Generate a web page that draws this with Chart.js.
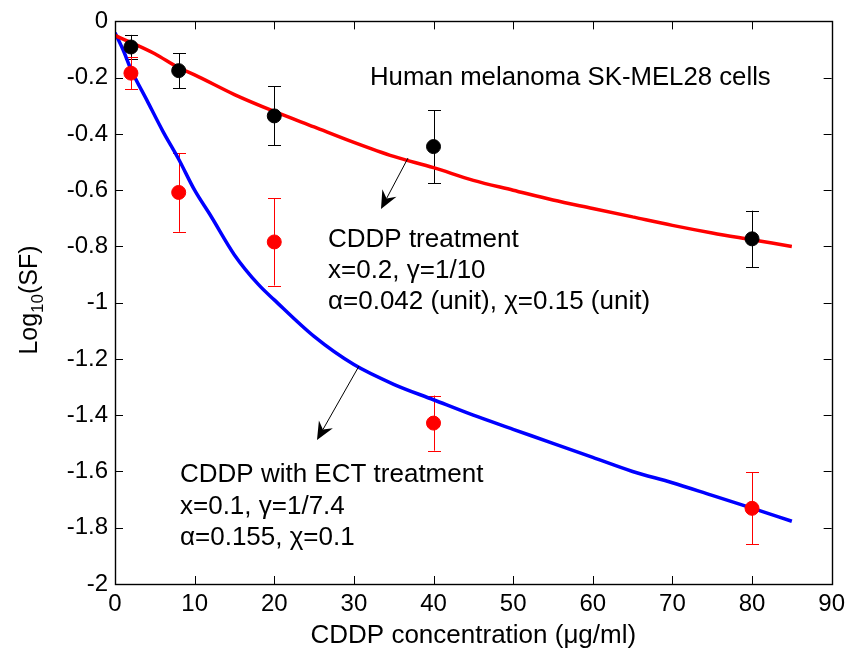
<!DOCTYPE html>
<html>
<head>
<meta charset="utf-8">
<script src="https://cdn.jsdelivr.net/npm/chart.js@4.4.1/dist/chart.umd.min.js"></script>
<style>
  html, body { margin: 0; padding: 0; background: #ffffff; }
  #wrap { width: 851px; height: 657px; }
</style>
</head>
<body>
<div id="wrap"><canvas id="c" width="851" height="657"></canvas></div>
<script>
// ---- Data ----
const xTickValues = [0, 10, 20, 30, 40, 50, 60, 70, 80, 90];
const yTickValues = [0, -0.2, -0.4, -0.6, -0.8, -1, -1.2, -1.4, -1.6, -1.8, -2];

// measured concentrations
const doseX = [2, 8, 20, 40, 80];
// CDDP treatment (black points) and their error half-widths
const cddpMean = [-0.091, -0.175, -0.336, -0.445, -0.773];
const cddpErr  = [0.043, 0.062, 0.105, 0.13, 0.10];
// CDDP with ECT treatment (red points) and their error half-widths
const ectMean = [-0.184, -0.608, -0.784, -1.428, -1.731];
const ectErr  = [0.058, 0.14, 0.155, 0.098, 0.128];

// model curve: CDDP treatment (red line)
const cddpCurveX = [0, 2, 5, 8, 10, 15, 20, 25, 30, 35, 40, 45, 50, 55, 60, 65, 70, 75, 80, 85];
const cddpCurveY = [-0.05, -0.075, -0.115, -0.165, -0.19, -0.26, -0.32, -0.375, -0.43, -0.48, -0.52, -0.565, -0.60, -0.635, -0.665, -0.695, -0.725, -0.752, -0.776, -0.80];

// model curve: CDDP with ECT treatment (blue line)
const ectCurveX = [0, 1, 2, 4, 6, 8, 10, 12, 15, 18, 20, 25, 30, 35, 40, 45, 50, 55, 60, 65, 70, 75, 80, 85];
const ectCurveY = [-0.04, -0.10, -0.17, -0.28, -0.39, -0.49, -0.60, -0.69, -0.83, -0.935, -0.99, -1.12, -1.22, -1.29, -1.345, -1.40, -1.45, -1.50, -1.55, -1.60, -1.64, -1.685, -1.73, -1.777];

// annotation texts
const labelCells = "Human melanoma SK-MEL28 cells";
const labelCddp = ["CDDP treatment", "x=0.2, \u03B3=1/10", "\u03B1=0.042 (unit), \u03C7=0.15 (unit)"];
const labelEct = ["CDDP with ECT treatment", "x=0.1, \u03B3=1/7.4", "\u03B1=0.155, \u03C7=0.1"];
const xTitle = "CDDP concentration (\u03BCg/ml)";

const FONT = "'Liberation Sans', Arial, Helvetica, sans-serif";

function pairs(xs, ys) { return xs.map((x, i) => ({ x: x, y: ys[i] })); }

function stretchedText(ctx, text, x, y, sx) {
  ctx.save();
  ctx.translate(x, y);
  ctx.scale(sx, 1);
  ctx.fillText(text, 0, 0);
  ctx.restore();
}

const overlay = {
  id: 'overlay',
  beforeDatasetsDraw(chart) {
    const ctx = chart.ctx, xs = chart.scales.x, ys = chart.scales.y;
    ctx.save();
    ctx.lineWidth = 1;
    const drawErr = (means, errs, color) => {
      ctx.strokeStyle = color;
      doseX.forEach((d, i) => {
        const px = Math.round(xs.getPixelForValue(d)) + 0.5;
        const top = ys.getPixelForValue(means[i] + errs[i]);
        const bot = ys.getPixelForValue(means[i] - errs[i]);
        ctx.beginPath();
        ctx.moveTo(px, top); ctx.lineTo(px, bot);
        ctx.moveTo(px - 6.5, Math.round(top) + 0.5); ctx.lineTo(px + 6.5, Math.round(top) + 0.5);
        ctx.moveTo(px - 6.5, Math.round(bot) + 0.5); ctx.lineTo(px + 6.5, Math.round(bot) + 0.5);
        ctx.stroke();
      });
    };
    drawErr(cddpMean, cddpErr, '#000000');
    drawErr(ectMean, ectErr, '#ff0000');
    ctx.restore();
  },
  afterDraw(chart) {
    const ctx = chart.ctx, a = chart.chartArea, xs = chart.scales.x, ys = chart.scales.y;
    ctx.save();
    // frame
    ctx.strokeStyle = '#000';
    ctx.lineWidth = 1.4;
    ctx.strokeRect(Math.round(a.left) + 0.5, Math.round(a.top) + 0.5, Math.round(a.right - a.left), Math.round(a.bottom - a.top));
    // inward ticks on all four sides
    ctx.lineWidth = 1;
    ctx.beginPath();
    xTickValues.forEach(v => {
      const px = Math.round(xs.getPixelForValue(v)) + 0.5;
      ctx.moveTo(px, a.bottom); ctx.lineTo(px, a.bottom - 8);
      ctx.moveTo(px, a.top); ctx.lineTo(px, a.top + 8);
    });
    yTickValues.forEach(v => {
      const py = Math.round(ys.getPixelForValue(v)) + 0.5;
      ctx.moveTo(a.left, py); ctx.lineTo(a.left + 8, py);
      ctx.moveTo(a.right, py); ctx.lineTo(a.right - 8, py);
    });
    ctx.stroke();

    // annotations
    ctx.fillStyle = '#000';
    ctx.font = "25px " + FONT;
    ctx.textAlign = 'left';
    ctx.textBaseline = 'alphabetic';
    stretchedText(ctx, labelCells, 370, 85, 1.03);
    labelCddp.forEach((t, i) => stretchedText(ctx, t, 328, 247 + i * 31, 1.04));
    labelEct.forEach((t, i) => stretchedText(ctx, t, 180, 482 + i * 31.5, 1.04));

    // arrows
    const arrow = (x1, y1, x2, y2) => {
      ctx.strokeStyle = '#000';
      ctx.fillStyle = '#000';
      ctx.lineWidth = 1;
      const ang = Math.atan2(y2 - y1, x2 - x1);
      const L = 18, W = 8, N = 12;
      const bx = x2 - L * Math.cos(ang), by = y2 - L * Math.sin(ang);
      const nx = x2 - N * Math.cos(ang), ny = y2 - N * Math.sin(ang);
      ctx.beginPath();
      ctx.moveTo(x1, y1); ctx.lineTo(nx, ny);
      ctx.stroke();
      ctx.beginPath();
      ctx.moveTo(x2, y2);
      ctx.lineTo(bx + W * Math.sin(ang), by - W * Math.cos(ang));
      ctx.lineTo(nx, ny);
      ctx.lineTo(bx - W * Math.sin(ang), by + W * Math.cos(ang));
      ctx.closePath();
      ctx.fill();
    };
    arrow(408, 158, 381, 209);
    arrow(359, 366, 317, 440);

    // y axis title with subscript
    ctx.save();
    ctx.translate(37, 300);
    ctx.rotate(-Math.PI / 2);
    ctx.fillStyle = '#000';
    const big = "25px " + FONT, small = "17px " + FONT;
    ctx.font = big; const w1 = ctx.measureText("Log").width;
    ctx.font = small; const w2 = ctx.measureText("10").width;
    ctx.font = big; const w3 = ctx.measureText("(SF)").width;
    let sx = -(w1 + w2 + w3) / 2;
    ctx.textAlign = 'left';
    ctx.font = big; ctx.fillText("Log", sx, 0); sx += w1;
    ctx.font = small; ctx.fillText("10", sx, 6); sx += w2;
    ctx.font = big; ctx.fillText("(SF)", sx, 0);
    ctx.restore();
    ctx.restore();
  }
};

const fmt = v => {
  const r = Math.round(v * 10) / 10;
  if (Math.abs(r) < 1e-9) return "0";
  return String(r);
};

new Chart(document.getElementById('c'), {
  type: 'scatter',
  data: {
    datasets: [
      { label: 'CDDP data', data: pairs(doseX, cddpMean), backgroundColor: '#000', borderColor: '#000', pointRadius: 7, pointHoverRadius: 7, showLine: false },
      { label: 'CDDP+ECT data', data: pairs(doseX, ectMean), backgroundColor: '#ff0000', borderColor: '#ff0000', pointRadius: 7, pointHoverRadius: 7, showLine: false },
      { label: 'CDDP model', data: pairs(cddpCurveX, cddpCurveY), showLine: true, borderColor: '#ff0000', borderWidth: 3.5, pointRadius: 0, cubicInterpolationMode: 'monotone', fill: false },
      { label: 'CDDP+ECT model', data: pairs(ectCurveX, ectCurveY), showLine: true, borderColor: '#0000ff', borderWidth: 3.5, pointRadius: 0, cubicInterpolationMode: 'monotone', fill: false }
    ]
  },
  options: {
    responsive: false,
    devicePixelRatio: 1,
    animation: false,
    events: [],
    layout: { padding: { top: 17, right: 18, left: 0, bottom: 0 } },
    plugins: { legend: { display: false }, tooltip: { enabled: false } },
    scales: {
      x: {
        type: 'linear', min: 0, max: 90,
        afterBuildTicks: s => { s.ticks = xTickValues.map(v => ({ value: v })); },
        ticks: { color: '#000', font: { family: FONT, size: 24 }, padding: 6, maxRotation: 0, autoSkip: false },
        grid: { display: false, drawTicks: false },
        border: { display: false },
        title: { display: true, text: xTitle, color: '#000', font: { family: FONT, size: 26 }, padding: { top: 0, bottom: 6 } },
        afterFit: s => { s.height = 73; }
      },
      y: {
        type: 'linear', min: -2, max: 0,
        afterBuildTicks: s => { s.ticks = yTickValues.map(v => ({ value: v })); },
        ticks: { color: '#000', font: { family: FONT, size: 24 }, padding: 7, autoSkip: false, callback: v => fmt(v) },
        grid: { display: false, drawTicks: false },
        border: { display: false },
        afterFit: s => { s.width = 115; }
      }
    }
  },
  plugins: [overlay]
});
</script>
</body>
</html>
